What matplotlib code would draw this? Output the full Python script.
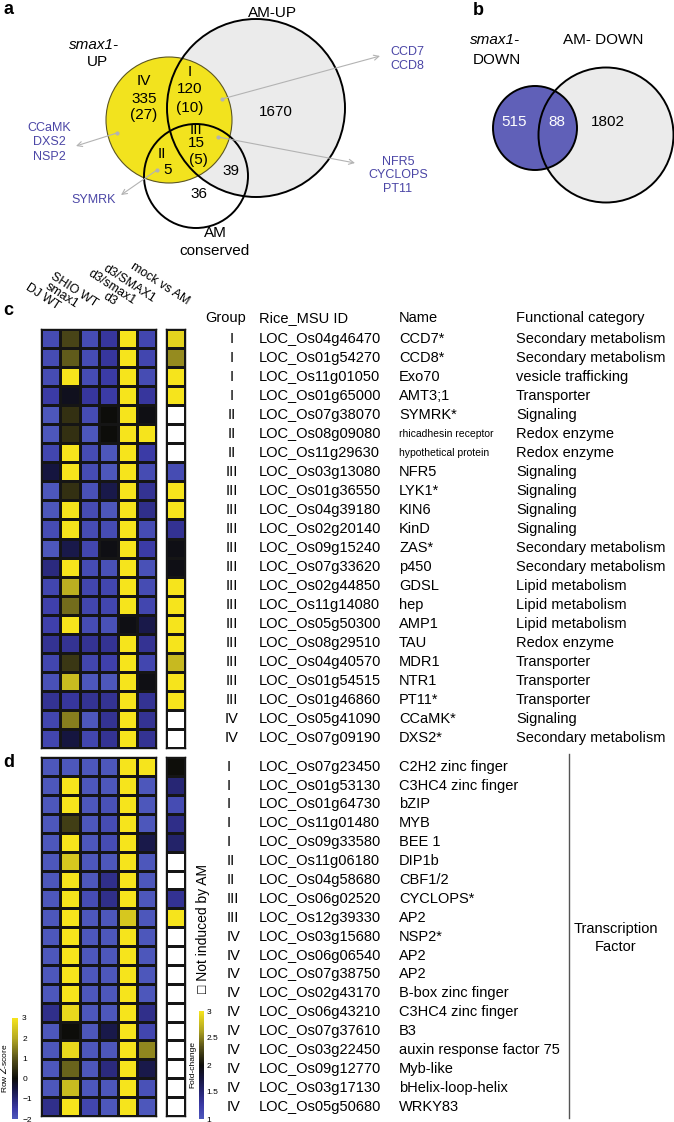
#!/usr/bin/env python3
"""Venn overlaps and row Z-score heatmaps for smax1 / AM induced genes."""

import numpy as np
import matplotlib
matplotlib.use('Agg')
import matplotlib.pyplot as plt
from matplotlib import transforms
from matplotlib.colors import LinearSegmentedColormap, Normalize
from matplotlib.cm import ScalarMappable
from matplotlib.patches import Circle

plt.rcParams['font.family'] = ['Liberation Sans', 'DejaVu Sans']

# ---- Venn counts -------------------------------------------------------
up_groups = ['IV', 'I', 'III', 'II']
up_counts = [335, 120, 15, 5]
up_tf_counts = [27, 10, 5, None]
am_up_only = 1670
am_up_conserved_only = 39
conserved_only = 36
down_counts = [515, 88, 1802]      # smax1-DOWN only, shared, AM-DOWN only

# ---- heatmap c ---------------------------------------------------------
samples = ['DJ WT', 'smax1', 'SHIO WT', 'd3', 'd3/smax1', 'd3/SMAX1']
am_label = 'mock vs AM'

c_groups = ['I', 'I', 'I', 'I', 'II', 'II', 'II', 'III', 'III', 'III', 'III',
            'III', 'III', 'III', 'III', 'III', 'III', 'III', 'III', 'III', 'IV', 'IV']
c_ids = ['LOC_Os04g46470', 'LOC_Os01g54270', 'LOC_Os11g01050', 'LOC_Os01g65000',
         'LOC_Os07g38070', 'LOC_Os08g09080', 'LOC_Os11g29630', 'LOC_Os03g13080',
         'LOC_Os01g36550', 'LOC_Os04g39180', 'LOC_Os02g20140', 'LOC_Os09g15240',
         'LOC_Os07g33620', 'LOC_Os02g44850', 'LOC_Os11g14080', 'LOC_Os05g50300',
         'LOC_Os08g29510', 'LOC_Os04g40570', 'LOC_Os01g54515', 'LOC_Os01g46860',
         'LOC_Os05g41090', 'LOC_Os07g09190']
c_names = ['CCD7*', 'CCD8*', 'Exo70', 'AMT3;1', 'SYMRK*', 'rhicadhesin receptor',
           'hypothetical protein', 'NFR5', 'LYK1*', 'KIN6', 'KinD', 'ZAS*', 'p450',
           'GDSL', 'hep', 'AMP1', 'TAU', 'MDR1', 'NTR1', 'PT11*', 'CCaMK*', 'DXS2*']
c_categories = ['Secondary metabolism', 'Secondary metabolism', 'vesicle trafficking',
                'Transporter', 'Signaling', 'Redox enzyme', 'Redox enzyme', 'Signaling',
                'Signaling', 'Signaling', 'Signaling', 'Secondary metabolism',
                'Secondary metabolism', 'Lipid metabolism', 'Lipid metabolism',
                'Lipid metabolism', 'Redox enzyme', 'Transporter', 'Transporter',
                'Transporter', 'Signaling', 'Secondary metabolism']
c_zscores = [
    [-1.8, 0.8, -1.8, -1.4, 3.0, -1.7],
    [-1.8, 1.1, -1.8, -1.4, 3.0, -1.7],
    [-1.8, 3.0, -1.8, -1.5, 3.0, -1.8],
    [-1.5, -0.2, -1.4, -1.5, 3.0, -1.4],
    [-2.0, 0.5, -1.8, 0.0, 3.0, -0.1],
    [-2.0, 0.5, -2.0, 0.0, 3.0, 3.0],
    [-1.7, 3.0, -1.8, -2.0, 3.0, -1.5],
    [-0.5, 3.0, -1.8, -2.0, 3.0, -1.8],
    [-2.0, 0.5, -1.9, -0.6, 3.0, -1.3],
    [-2.0, 3.0, -1.8, -2.0, 3.0, -1.2],
    [-1.8, 3.0, -1.8, -1.8, 3.0, -1.8],
    [-2.0, -0.6, -1.7, -0.1, 3.0, -1.5],
    [-1.1, 3.0, -1.8, -1.9, 3.0, -1.9],
    [-1.7, 2.1, -1.7, -1.7, 3.0, -1.8],
    [-1.6, 1.3, -1.7, -1.7, 3.0, -1.7],
    [-1.6, 3.0, -1.8, -1.9, -0.1, -0.6],
    [-1.3, -1.3, -1.3, -1.3, 3.0, -1.3],
    [-1.7, 0.6, -1.7, -1.6, 3.0, -1.7],
    [-1.9, 2.3, -2.0, -2.0, 3.0, -0.1],
    [-1.3, -1.4, -1.3, -1.3, 3.0, -1.3],
    [-1.7, 1.5, -2.0, -1.3, 3.0, -1.3],
    [-1.7, -0.5, -1.7, -1.3, 3.0, -1.3],
]
# fold change mock vs AM (nan = not induced by AM)
c_fold = [2.9, 2.55, 3.0, 3.0, np.nan, np.nan, np.nan, 1.1, 3.0, 3.0, 1.35,
          1.95, 1.95, 3.0, 3.0, 3.0, 3.0, 2.75, 3.0, 3.0, np.nan, np.nan]

# ---- heatmap d (transcription factors) ---------------------------------
d_groups = ['I', 'I', 'I', 'I', 'I', 'II', 'II', 'III', 'III', 'IV', 'IV', 'IV',
            'IV', 'IV', 'IV', 'IV', 'IV', 'IV', 'IV']
d_ids = ['LOC_Os07g23450', 'LOC_Os01g53130', 'LOC_Os01g64730', 'LOC_Os11g01480',
         'LOC_Os09g33580', 'LOC_Os11g06180', 'LOC_Os04g58680', 'LOC_Os06g02520',
         'LOC_Os12g39330', 'LOC_Os03g15680', 'LOC_Os06g06540', 'LOC_Os07g38750',
         'LOC_Os02g43170', 'LOC_Os06g43210', 'LOC_Os07g37610', 'LOC_Os03g22450',
         'LOC_Os09g12770', 'LOC_Os03g17130', 'LOC_Os05g50680']
d_names = ['C2H2 zinc finger', 'C3HC4 zinc finger', 'bZIP', 'MYB', 'BEE 1', 'DIP1b',
           'CBF1/2', 'CYCLOPS*', 'AP2', 'NSP2*', 'AP2', 'AP2', 'B-box zinc finger',
           'C3HC4 zinc finger', 'B3', 'auxin response factor 75', 'Myb-like',
           'bHelix-loop-helix', 'WRKY83']
d_zscores = [
    [-2.0, -2.0, -2.0, -2.0, 3.0, 3.0],
    [-2.0, 3.0, -2.0, -2.0, 3.0, -2.0],
    [-2.0, 3.0, -2.0, -1.9, 3.0, -2.0],
    [-2.0, 0.7, -2.0, -1.8, 3.0, -2.0],
    [-2.0, 3.0, -2.0, -1.8, 3.0, -0.6],
    [-2.0, 2.5, -2.0, -2.0, 3.0, -2.0],
    [-2.0, 3.0, -2.0, -1.2, 3.0, -2.0],
    [-2.0, 3.0, -1.8, -1.2, 3.0, -2.0],
    [-2.0, 3.0, -2.0, -2.0, 2.5, -2.0],
    [-2.0, 3.0, -2.0, -2.0, 3.0, -2.0],
    [-2.0, 3.0, -2.0, -2.0, 3.0, -2.0],
    [-2.0, 3.0, -2.0, -2.0, 3.0, -2.0],
    [-2.0, 3.0, -2.0, -2.0, 3.0, -2.0],
    [-1.2, 2.8, -2.0, -2.0, 3.0, -1.2],
    [-2.0, 0.0, -2.0, -0.6, 3.0, -1.7],
    [-2.0, 2.8, -2.0, -2.0, 3.0, 1.6],
    [-2.0, 1.2, -2.0, -1.1, 3.0, -0.6],
    [-2.0, 2.3, -2.0, -2.0, 3.0, -1.9],
    [-1.2, 3.0, -1.7, -2.0, 3.0, -2.0],
]
d_fold = [2.0, 1.5, 1.1, 1.4, 1.55, np.nan, np.nan, 1.35, 3.0] + [np.nan] * 10

z_ticks = [-2, -1, 0, 1, 2, 3]
fold_ticks = [1, 1.5, 2, 2.5, 3]

# ---- styling -----------------------------------------------------------
W, H = 674, 1122
BLUE_TXT = '#4b46a6'
YELLOW = '#f2e31e'
GRAY_FILL = '#ebebeb'
ARROW_GRAY = '#b3b3b3'

ramp = ['#4d57bb', '#3b3aa6', '#272674', '#15153e', '#0d0d0a',
        '#57521a', '#b5a922', '#f6e41c']
z_cmap = LinearSegmentedColormap.from_list(
    'zscore', list(zip([0.0, 0.1, 0.2, 0.3, 0.4, 0.6, 0.8, 1.0], ramp)))
fold_cmap = LinearSegmentedColormap.from_list(
    'fold', list(zip([0.0, 0.125, 0.25, 0.375, 0.5, 0.667, 0.833, 1.0], ramp)))
fold_cmap.set_bad('white')
z_norm = Normalize(-2, 3)
fold_norm = Normalize(1, 3)

fig = plt.figure(figsize=(W / 100, H / 100), dpi=100)
ax0 = fig.add_axes([0, 0, 1, 1])
ax0.set_xlim(0, W)
ax0.set_ylim(H, 0)
ax0.axis('off')


def px_axes(x0, y0, x1, y1):
    """Axes placed by pixel box (top-left origin)."""
    return fig.add_axes([x0 / W, 1 - y1 / H, (x1 - x0) / W, (y1 - y0) / H])


def draw_heat(ax, values, cmap, norm, edge='#151515'):
    arr = np.ma.masked_invalid(np.asarray(values, dtype=float))
    if arr.ndim == 1:
        arr = arr[:, None]
    ax.pcolormesh(arr, cmap=cmap, norm=norm, edgecolors=edge, linewidth=0.9)
    ax.set_xlim(0, arr.shape[1])
    ax.set_ylim(arr.shape[0], 0)
    ax.set_xticks([])
    ax.set_yticks([])
    for s in ax.spines.values():
        s.set_linewidth(1.0)
        s.set_color('#151515')


# ---- panel a: Venn -----------------------------------------------------
ax0.text(3, 9, 'a', fontsize=13, fontweight='bold', va='center')
ax0.add_patch(Circle((256, 108), 89, facecolor=GRAY_FILL, edgecolor='none', zorder=1))
ax0.add_patch(Circle((169, 120), 63, facecolor=YELLOW, edgecolor='#5c5622', lw=0.8, zorder=2))
ax0.add_patch(Circle((256, 108), 89, facecolor='none', edgecolor='black', lw=1.4, zorder=3))
ax0.add_patch(Circle((196, 176), 52, facecolor='none', edgecolor='black', lw=1.4, zorder=3))

vkw = dict(fontsize=11, ha='center', va='center', zorder=5)
ax0.text(94, 45, 'smax1-', style='italic', **vkw)
ax0.text(97, 62, 'UP', **vkw)
ax0.text(272, 13, 'AM-UP', **vkw)
ax0.text(215, 233, 'AM', **vkw)
ax0.text(215, 251, 'conserved', **vkw)

group_pos = {'IV': (144, 81, 99, 115), 'I': (190, 72, 89, 108),
             'III': (196, 130, 143, 160), 'II': (162, 154, 170, None)}
for g, n, tf in zip(up_groups, up_counts, up_tf_counts):
    gx, gy, ny, ty = group_pos[g]
    ax0.text(gx, gy, g, **vkw)
    ax0.text(gx + (6 if g == 'II' else 0), ny, str(n), **vkw)
    if tf is not None:
        ax0.text(gx + (2 if g == 'III' else 0), ty, f'({tf})', **vkw)
ax0.text(276, 112, str(am_up_only), **vkw)
ax0.text(231, 171, str(am_up_conserved_only), **vkw)
ax0.text(199, 194, str(conserved_only), **vkw)

# pointers to marker genes
dots = [(222, 99), (117, 133), (157, 170), (218, 137)]
heads = [(380, 56), (76, 146), (121, 195), (355, 163)]
for (dx, dy), (hx, hy) in zip(dots, heads):
    ax0.annotate('', xy=(hx, hy), xytext=(dx, dy), zorder=6,
                 arrowprops=dict(arrowstyle='->', color=ARROW_GRAY, lw=0.8,
                                 shrinkA=0, shrinkB=0, mutation_scale=9))
ax0.scatter([d[0] for d in dots], [d[1] for d in dots], s=9, color=ARROW_GRAY,
            zorder=7, linewidths=0)

bkw = dict(fontsize=9, color=BLUE_TXT, ha='center', va='center')
for txt, y in zip(['CCD7', 'CCD8'], [52, 66]):
    ax0.text(407, y, txt, **bkw)
for txt, y in zip(['CCaMK', 'DXS2', 'NSP2'], [128, 142, 157]):
    ax0.text(49, y, txt, **bkw)
ax0.text(94, 200, 'SYMRK', **bkw)
for txt, y in zip(['NFR5', 'CYCLOPS', 'PT11'], [162, 175, 189]):
    ax0.text(398, y, txt, **bkw)

# ---- panel b -----------------------------------------------------------
ax0.text(473, 10, 'b', fontsize=13, fontweight='bold', va='center')
ax0.add_patch(Circle((606, 135), 67.5, facecolor=GRAY_FILL, edgecolor='none', zorder=1))
ax0.add_patch(Circle((535, 128), 42, facecolor='#6060b8', edgecolor='black', lw=1.4, zorder=2))
ax0.add_patch(Circle((606, 135), 67.5, facecolor='none', edgecolor='black', lw=1.4, zorder=3))
ax0.text(495, 40, 'smax1-', style='italic', **vkw)
ax0.text(497, 60, 'DOWN', **vkw)
ax0.text(603, 40, 'AM- DOWN', **vkw)
ax0.text(514, 122, str(down_counts[0]), color='white', **vkw)
ax0.text(557, 122, str(down_counts[1]), color='white', **vkw)
ax0.text(608, 122, str(down_counts[2]), **vkw)

# ---- panel c heatmap ---------------------------------------------------
ax0.text(3, 310, 'c', fontsize=13, fontweight='bold', va='center')
axc = px_axes(41.3, 329.3, 156, 747.7)
axc_am = px_axes(165.7, 329.3, 184.7, 747.7)
draw_heat(axc, c_zscores, z_cmap, z_norm)
draw_heat(axc_am, c_fold, fold_cmap, fold_norm)

for j, lab in enumerate(samples):
    axc.text(j + 0.72, -0.9 - 0.07 * j, lab, rotation=-33, rotation_mode='anchor',
             ha='right', va='bottom', fontsize=9, clip_on=False)
axc_am.text(1.0, -1.15, am_label, rotation=-33, rotation_mode='anchor',
            ha='right', va='bottom', fontsize=9, clip_on=False)

TFS = 10.5
hdr_y = 318
ax0.text(205, hdr_y, 'Group', fontsize=TFS, va='center')
ax0.text(259, hdr_y, 'Rice_MSU ID', fontsize=TFS, va='center')
ax0.text(399, hdr_y, 'Name', fontsize=TFS, va='center')
ax0.text(516, hdr_y, 'Functional category', fontsize=TFS, va='center')

tc = transforms.blended_transform_factory(ax0.transData, axc.transData)
for i, (g, gid, nm, cat) in enumerate(zip(c_groups, c_ids, c_names, c_categories)):
    y = i + 0.5
    ax0.text(232, y, g, transform=tc, fontsize=TFS, ha='center', va='center')
    ax0.text(259, y, gid, transform=tc, fontsize=TFS, va='center')
    small = len(nm) > 12
    ax0.text(399, y, nm, transform=tc, fontsize=7.5 if small else TFS, va='center')
    ax0.text(516, y, cat, transform=tc, fontsize=TFS, va='center')

# ---- panel d heatmap ---------------------------------------------------
ax0.text(3, 762, 'd', fontsize=13, fontweight='bold', va='center')
axd = px_axes(41.3, 757.3, 156, 1116)
axd_am = px_axes(165.7, 757.3, 184.7, 1116)
draw_heat(axd, d_zscores, z_cmap, z_norm)
draw_heat(axd_am, d_fold, fold_cmap, fold_norm)

td = transforms.blended_transform_factory(ax0.transData, axd.transData)
for i, (g, gid, nm) in enumerate(zip(d_groups, d_ids, d_names)):
    y = i + 0.5
    ax0.text(227, y, g, transform=td, fontsize=TFS, va='center')
    ax0.text(259, y, gid, transform=td, fontsize=TFS, va='center')
    ax0.text(399, y, nm, transform=td, fontsize=TFS, va='center')
ax0.plot([569, 569], [-0.2, len(d_ids) + 0.1], transform=td, color='#555555', lw=1.0)
ax0.text(616, 929, 'Transcription', fontsize=TFS, ha='center', va='center')
ax0.text(616, 947, 'Factor', fontsize=TFS, ha='center', va='center')

# legend: not induced
ax0.text(203, 928, '\u25a1 Not induced by AM', rotation=90, fontsize=10,
         ha='center', va='center')

# ---- colour bars -------------------------------------------------------
cax_z = px_axes(12, 1018, 18, 1119)
cb = fig.colorbar(ScalarMappable(norm=z_norm, cmap=z_cmap), cax=cax_z, ticks=z_ticks)
cb.outline.set_visible(False)
cb.ax.tick_params(labelsize=6, length=0, pad=3)
cb.ax.set_yticklabels([f'{t}'.replace('-', '\u2212') for t in z_ticks])
cb.set_label('Row $\\it{Z}$-score', fontsize=6, labelpad=2)
cb.ax.yaxis.set_label_position('left')

cax_f = px_axes(199, 1011, 204, 1119)
cbf = fig.colorbar(ScalarMappable(norm=fold_norm, cmap=fold_cmap), cax=cax_f, ticks=fold_ticks)
cbf.outline.set_visible(False)
cbf.ax.tick_params(labelsize=6, length=0, pad=2)
cbf.ax.set_yticklabels(['1', '1.5', '2', '2.5', '3'])
cbf.set_label('Fold-change', fontsize=6, labelpad=2)
cbf.ax.yaxis.set_label_position('left')

fig.savefig('out.png', dpi=100)
